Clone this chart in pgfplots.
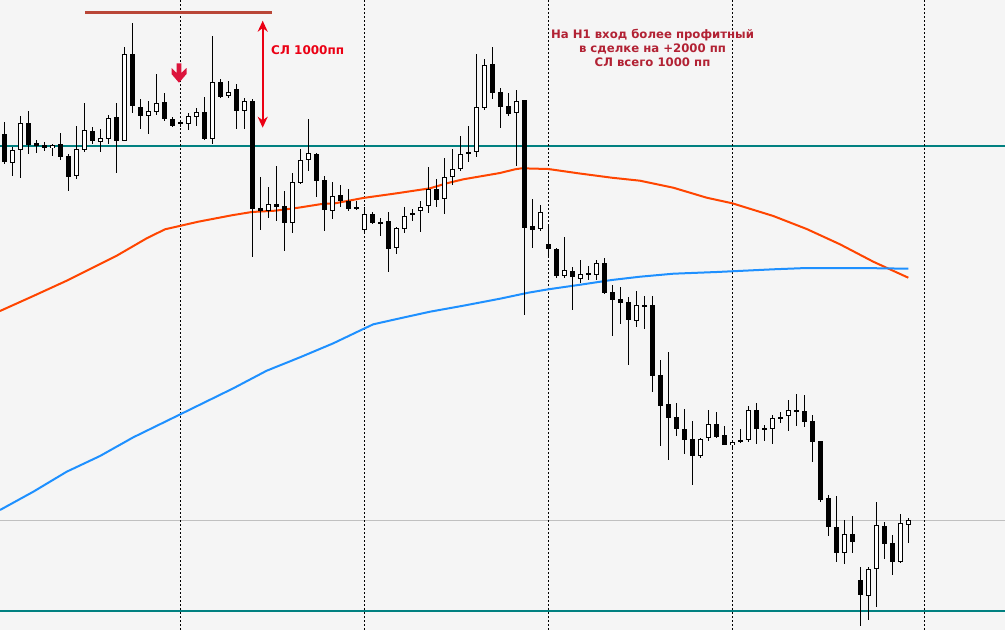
\documentclass[border=0pt]{standalone}
\usepackage{pgfplots}
\pgfplotsset{compat=1.18}
\usepackage{pgfplotstable}
\usepackage{fontspec}
\setmainfont{DejaVu Sans}
\usetikzlibrary{arrows.meta}
\definecolor{bg}{RGB}{245,245,245}
\definecolor{tealline}{RGB}{0,128,128}
\definecolor{maRed}{RGB}{255,69,0}
\definecolor{maBlue}{RGB}{30,144,255}
\definecolor{topred}{RGB}{185,70,55}
\definecolor{txtred}{RGB}{178,34,52}
\definecolor{slred}{RGB}{235,0,20}
\definecolor{arrowred}{RGB}{220,20,60}
\definecolor{gridgray}{RGB}{192,192,192}

\pgfplotstableread{
i o h l c
0 134 122 164 162
1 163 147 176 150
2 150 116 178 123
3 123 111 154 145
4 143 140 153 146
5 145 142 151 148
6 148 144 156 145
7 144 133 160 157
8 156 154 191 177
9 176 126 179 149
10 150 103 152 130
11 131 127 144 141
12 142 129 152 138
13 139 115 144 118
14 117 103 173 141
15 141 47 141 54
16 54 23 113 106
17 107 99 129 116
18 116 101 134 111
19 112 74 115 103
20 102 93 121 119
21 119 117 127 126
22 122 120 127 124
23 124 113 130 116
24 117 108 126 112
25 112 97 140 139
26 139 36 144 82
27 82 79 98 97
28 96 81 98 92
29 89 84 129 111
30 111 98 129 101
31 101 99 257 209
32 208 177 230 211
33 211 187 218 204
34 204 166 221 207
35 206 191 251 223
36 223 173 233 182
37 183 149 184 160
38 160 119 171 153
39 154 153 197 181
40 180 176 231 210
41 211 182 219 196
42 195 185 207 201
43 201 189 211 209
44 207 201 210 209
45 230 207 233 214
46 214 212 224 223
47 222 218 236 223
48 221 212 272 249
49 248 227 254 228
50 229 207 233 216
51 213 209 221 214
52 211 201 232 207
53 206 167 213 189
54 189 179 207 200
55 199 158 214 177
56 177 149 185 169
57 169 136 171 154
58 154 126 162 152
59 152 54 157 107
60 108 59 110 65
61 64 47 99 93
62 92 88 128 107
63 106 93 116 114
64 113 90 166 101
65 100 100 315 228
66 226 199 248 230
67 229 205 231 212
68 244 225 257 249
69 249 248 278 276
70 276 237 278 270
71 271 267 310 277
72 279 260 283 274
73 275 266 280 273
74 275 260 280 263
75 263 258 294 293
76 292 285 336 300
77 299 287 324 303
78 302 297 365 320
79 321 291 327 305
80 305 296 329 306
81 305 296 392 376
82 375 360 446 406
83 404 352 460 418
84 417 403 436 429
85 429 409 454 440
86 439 421 485 456
87 456 438 458 439
88 438 410 441 424
89 424 412 438 437
90 435 426 445 445
91 445 442 450 442
92 440 429 443 442
93 440 406 442 410
94 410 403 444 429
95 428 425 441 429
96 429 415 444 418
97 417 412 423 418
98 416 400 431 410
99 410 394 426 412
100 411 395 427 422
101 421 415 462 442
102 441 441 502 500
103 498 495 536 527
104 527 496 562 553
105 553 520 564 534
106 534 516 553 542
107 580 567 626 595
108 596 567 620 569
109 569 502 607 525
110 526 522 559 544
111 543 535 575 562
112 562 514 563 523
113 525 518 543 520
}\candles

\begin{document}
\begin{tikzpicture}
\begin{axis}[
  scale only axis, width=1005pt, height=630pt,
  xmin=0, xmax=1005, ymin=0, ymax=630, y dir=reverse,
  axis line style={draw=none}, ticks=none,
  axis background/.style={fill=bg},
]
% horizontal levels
\addplot[tealline, line width=2pt, forget plot] coordinates {(0,146) (1005,146)};
\addplot[tealline, line width=2pt, forget plot] coordinates {(0,610.7) (1005,610.7)};
\addplot[gridgray, line width=1pt, forget plot] coordinates {(0,520.5) (1005,520.5)};
% dotted period separators
\foreach \xx in {180.5,364.5,548.5,732.5,924.5}{
  \edef\tmp{\noexpand\addplot[black, line width=1pt, dash pattern=on 2pt off 2pt, forget plot] coordinates {(\xx,0) (\xx,630)};}
  \tmp
}
% moving averages
\addplot[maRed, line width=2pt] coordinates {
(0,311) (33.3,296) (66.7,280.7) (116.7,255.7) (146.7,238.3) (165,229.3) (198.3,221.7)
(231.7,215.3) (251.7,212) (275,210.7) (298.3,207.7) (321.7,204) (335,203.3) (363,198)
(396.7,193.3) (430,188.3) (446.7,183.3) (463.3,179.3) (500,173) (515,169.3) (521.7,168.3)
(548.3,169) (578.3,173.3) (611.7,177.7) (640,180.7) (673.3,187.7) (706.7,197.7)
(732.3,203.3) (773.3,216) (806.7,229) (840,244.3) (873.3,261.7) (908.3,277.7)};
\addplot[maBlue, line width=2pt] coordinates {
(0,510) (33.3,491.7) (66.7,471.7) (100,456) (133.3,437.3) (180.3,414.3) (233.3,388.3)
(266.7,370.7) (300,357.3) (333.3,343.3) (364.7,328.3) (373.3,324.3) (400,318.3)
(430,311.7) (463.3,305.7) (500,298.7) (528.3,292.7) (548.3,289.3) (578.3,285)
(611.7,280) (640,276.7) (673.3,273.7) (716.7,272) (773.3,269.3) (806.7,268) (860,268)
(908.3,268.7)};
% wicks
\addplot[draw=none, mark=none, forget plot, error bars/.cd, y dir=both, y explicit,
  error mark=none, error bar style={draw=black, line width=1pt, solid}]
  table[x expr={4.5+8*\thisrow{i}}, y expr={(\thisrow{h}+\thisrow{l})/2},
        y error expr={(\thisrow{l}-\thisrow{h})/2}] {\candles};
% bodies (black outline / fill)
\addplot[draw=none, mark=none, forget plot, error bars/.cd, y dir=both, y explicit,
  error mark=none, error bar style={draw=black, line width=5pt, solid}]
  table[x expr={4.5+8*\thisrow{i}}, y expr={(\thisrow{o}+\thisrow{c})/2},
        y error expr={abs(\thisrow{o}-\thisrow{c})/2}] {\candles};
% hollow interior of rising candles
\addplot[draw=none, mark=none, forget plot, error bars/.cd, y dir=both, y explicit,
  error mark=none, error bar style={draw=white, line width=3pt, solid}]
  table[x expr={4.5+8*\thisrow{i}}, y expr={(\thisrow{o}+\thisrow{c})/2},
        y error expr={max(0,(\thisrow{o}-\thisrow{c})/2-1)}] {\candles};
% annotations
\addplot[topred, line width=3pt, forget plot] coordinates {(85,12.3) (272.3,12.3)};
\draw[slred, line width=2pt, {Stealth[length=11pt,width=10pt]}-{Stealth[length=11pt,width=10pt]}]
  (axis cs:262.7,20.7) -- (axis cs:262.7,127.7);
\node[font=\bfseries\fontsize{12}{14}\selectfont, text=slred, anchor=west, inner sep=0pt]
  at (axis cs:271,50.5) {СЛ 1000пп};
\fill[arrowred] (axis cs:176.7,63.3) -- (axis cs:181.3,63.3) -- (axis cs:181.3,73)
  -- (axis cs:186.5,68) -- (axis cs:186.5,74) -- (axis cs:179,82.7) -- (axis cs:171.5,74)
  -- (axis cs:171.5,68) -- (axis cs:176.7,73) -- cycle;
\node[font=\bfseries\fontsize{11.7}{14}\selectfont, text=txtred, align=center, inner sep=0pt]
  at (axis cs:652.5,48.3) {На H1 вход более профитный\\в сделке на +2000 пп\\СЛ всего 1000 пп};
\end{axis}
\end{tikzpicture}
\end{document}
